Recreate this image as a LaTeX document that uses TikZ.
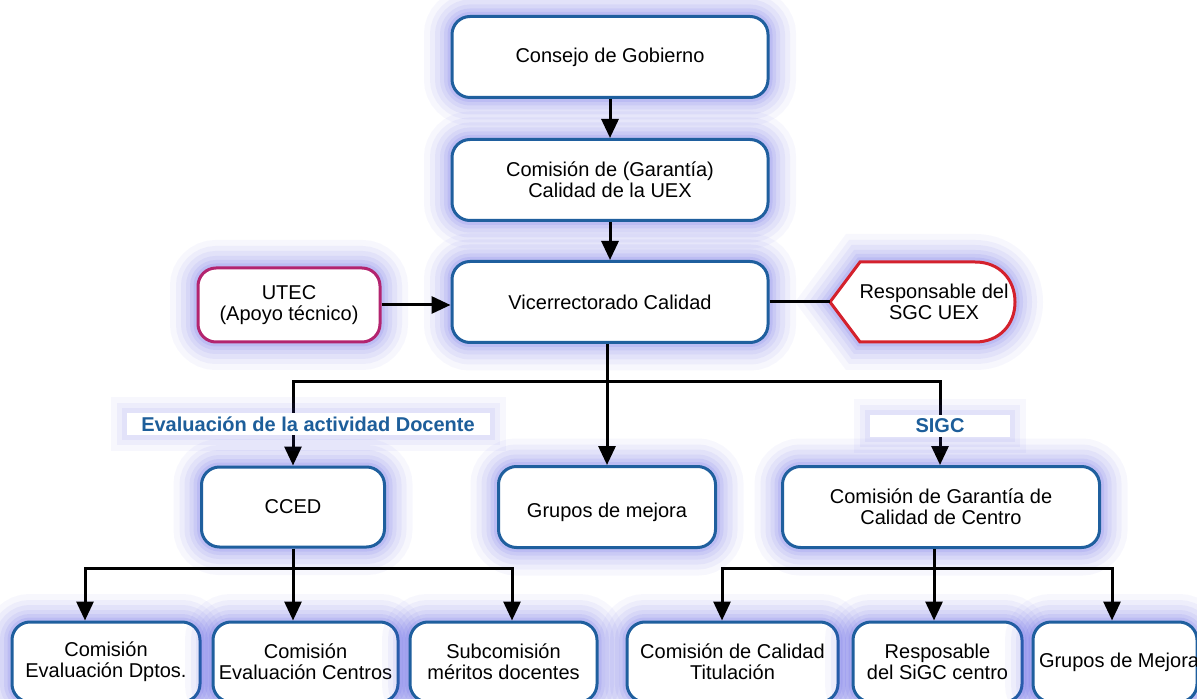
\documentclass[tikz,border=0pt]{standalone}
\usepackage{fontspec}
\setmainfont{Liberation Sans}
\usetikzlibrary{arrows.meta,positioning}
\definecolor{uexblue}{HTML}{1F5F9E}
\definecolor{utecmag}{HTML}{B3246F}
\definecolor{respred}{HTML}{D4212D}
\definecolor{glowblue}{HTML}{5050E6}
\definecolor{tagblue}{HTML}{1D5E9A}

\begin{document}
\begin{tikzpicture}[x=0.5pt,y=-0.5pt,font=\fontsize{10}{10.5}\selectfont,
 glow/.style={preaction={draw=glowblue,line width=28pt,opacity=.045},preaction={draw=glowblue,line width=22pt,opacity=.055},preaction={draw=glowblue,line width=17pt,opacity=.065},preaction={draw=glowblue,line width=12pt,opacity=.075},preaction={draw=glowblue,line width=8pt,opacity=.09},preaction={draw=glowblue,line width=4.5pt,opacity=.11}},
 softglow/.style={preaction={draw=glowblue,line width=16pt,opacity=.045},preaction={draw=glowblue,line width=10pt,opacity=.055},preaction={draw=glowblue,line width=5pt,opacity=.065}},
 box/.style={rectangle,rounded corners=9pt,draw=uexblue,line width=1.5pt,fill=white,align=center,glow,inner sep=2pt},
 tag/.style={rectangle,fill=white,softglow,inner sep=0pt,text=tagblue,font=\fontsize{10}{11}\selectfont\bfseries},
 conn/.style={draw=black,line width=1.5pt},
 arr/.style={conn,-{Triangle[length=9.5pt,width=8.5pt]}}]
\useasboundingbox (0,0) rectangle (1197,699);
\fill[white] (0,0) rectangle (1197,699);
% upper chain
\node[box,minimum width=158pt,minimum height=40.5pt] (gob) at (610,57) {Consejo de Gobierno};
\node[box,minimum width=158pt,minimum height=40.5pt] (cal) at (610,180) {Comisión de (Garantía)\\Calidad de la UEX};
\node[box,minimum width=158pt,minimum height=40.5pt] (vice) at (610,302) {Vicerrectorado Calidad};
\node[box,draw=utecmag,minimum width=91pt,minimum height=37pt] (utec) at (289,305) {UTEC\\(Apoyo técnico)};
% responsable, pointed on the left
\coordinate (resptip) at (830,302);
\filldraw[draw=respred,fill=white,line width=1.5pt,glow] (resptip) -- (860,262) -- (975,262) .. controls (1000,262) and (1015,280) .. (1015,302) .. controls (1015,324) and (1000,342) .. (975,342) -- (860,342) -- cycle;
\node[align=center,inner sep=0pt] (resp) at (934,302) {Responsable del\\SGC UEX};
\draw[arr] (gob) -- (cal);
\draw[arr] (cal) -- (vice);
\draw[arr] (utec) -- (utec -| vice.west);
\draw[conn] (vice) -- (resptip);
% middle row
\coordinate (j1) at (607,382);
\node[box,minimum width=91.5pt,minimum height=40pt] (cced) at (293,507) {CCED};
\node[box,minimum width=108.5pt,minimum height=40.5pt] (grupos) at (607,507) {\\[2pt]Grupos de mejora};
\node[box,minimum width=158.5pt,minimum height=40.5pt] (centro) at (941,507) {Comisión de Garantía de\\Calidad de Centro};
\draw[conn] (vice.south -| j1) -- (j1);
\draw[arr] (j1) -| (cced);
\draw[arr] (j1) -- (grupos);
\draw[arr] (j1) -| (centro.north -| 940,0);
\node[tag,minimum width=181.5pt,minimum height=11pt] (evtag) at (308,424) {Evaluación de la actividad Docente};
\node[tag,minimum width=70pt,minimum height=11pt] (sigctag) at (940,426) {SIGC};
% bottom rows
\node[box,minimum width=94pt,minimum height=40pt] (dptos) at (106,662) {Comisión\\Evaluación Dptos.};
\node[box,minimum width=92.5pt,minimum height=40pt] (centros) at (305.5,662) {Comisión\\Evaluación Centros};
\node[box,minimum width=93.5pt,minimum height=40pt] (subcom) at (503.5,662) {Subcomisión\\méritos docentes};
\node[box,minimum width=105.5pt,minimum height=40pt] (titul) at (732.5,662) {Comisión de Calidad\\Titulación};
\node[box,minimum width=84.5pt,minimum height=40pt] (respc) at (937.5,662) {Resposable\\del SiGC centro};
\node[box,minimum width=82pt,minimum height=40pt] (gmej) at (1115,662) {\makebox[76pt][l]{Grupos de Mejora}};
\coordinate (j2) at (293,568);
\coordinate (j3) at (934,568);
\draw[conn] (cced) -- (j2);
\draw[arr] (j2) -| ([xshift=-10.5pt]dptos.north);
\draw[arr] (j2) -| ([xshift=-6.25pt]centros.north);
\draw[arr] (j2) -| ([xshift=4.25pt]subcom.north);
\draw[conn] (centro.south -| j3) -- (j3);
\draw[arr] (j3) -| ([xshift=-5.25pt]titul.north);
\draw[arr] (j3) -| ([xshift=-1.75pt]respc.north);
\draw[arr] (j3) -| ([xshift=-1.5pt]gmej.north);
\end{tikzpicture}
\end{document}
